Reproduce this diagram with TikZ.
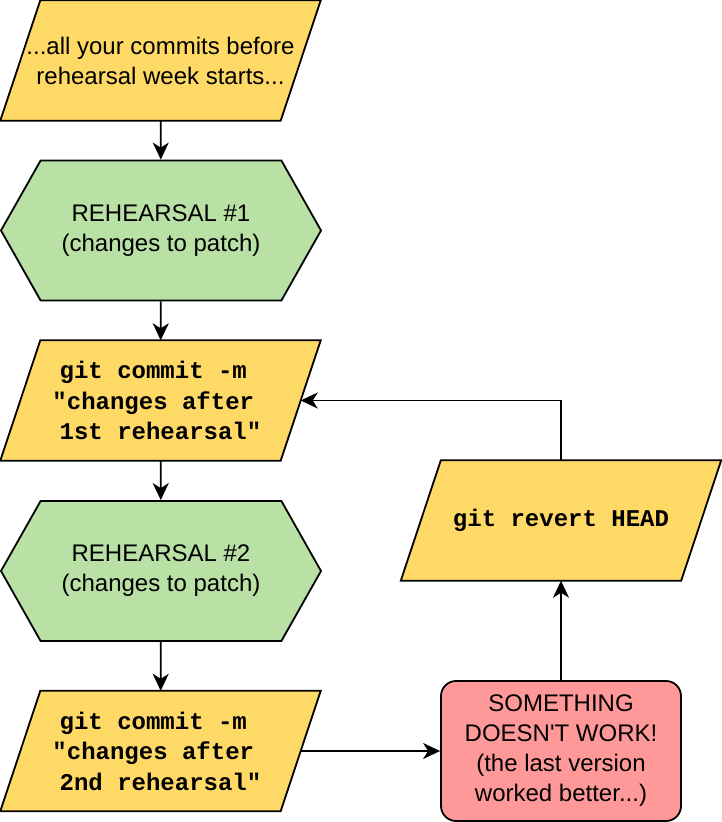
\documentclass[tikz,border=0pt]{standalone}
\usepackage{fontspec}
\setmainfont{Liberation Sans}
\setmonofont{Liberation Mono}
\usepackage{tikz}
\usetikzlibrary{shapes.symbols,arrows.meta,backgrounds}

\definecolor{yellowfill}{HTML}{FFD966}
\definecolor{greenfill}{HTML}{B9E0A5}
\definecolor{redfill}{HTML}{FF9999}

\tikzset{
    every node/.style={font=\fontsize{24}{30}\selectfont, align=center},
    para/.style={rectangle, minimum width=320pt, minimum height=120pt, inner sep=0pt},
    paraline/.style={draw, line width=1.8pt, fill=yellowfill, line join=miter},
    rehearsal/.style={signal, signal to=east and west, signal pointer angle=121,
        draw, line width=1.8pt, fill=greenfill,
        minimum width=320pt, minimum height=140pt, inner sep=0pt},
    alarm/.style={rectangle, rounded corners=15pt, draw, line width=1.8pt,
        fill=redfill, minimum width=240pt, minimum height=140pt, inner sep=0pt},
    code/.style={font=\fontsize{24}{30.5}\selectfont\ttfamily\bfseries},
    link/.style={->, line width=1.8pt},
    >={Stealth[length=17pt,width=16pt,inset=5pt]}
}

\begin{document}
\begin{tikzpicture}[x=1pt,y=-1pt]
        \useasboundingbox (0,0) rectangle (722,822);

        \node[para] (before) at (160.5,60.5) {...all your commits before\\rehearsal week starts...};
        \node[rehearsal] (reh1) at (161,230.5) {REHEARSAL \#1\\(changes to patch)};
        \node[para, code] (commit1) at (160.5,400.5)
            {git commit -m\hphantom{x}\\"changes after\hphantom{x}\\1st rehearsal"};
        \node[rehearsal] (reh2) at (161,571) {REHEARSAL \#2\\(changes to patch)};
        \node[para, code] (commit2) at (160.5,751)
            {git commit -m\hphantom{x}\\"changes after\hphantom{x}\\2nd rehearsal"};

        \node[alarm] (broken) at (561,751)
            {SOMETHING\\DOESN\textquotesingle T WORK!\\(the last version\\worked better...)};
        \node[para, code] (revert) at (561,520.5) {git revert HEAD};

        % slanted boxes behind the text
        \begin{scope}[on background layer]
            \foreach \n in {before,commit1,commit2,revert}
                \draw[paraline] ([xshift=40pt]\n.north west) -- (\n.north east)
                    -- ([xshift=-40pt]\n.south east) -- (\n.south west) -- cycle;
        \end{scope}

        \draw[link] (before) -- (reh1);
        \draw[link] (reh1) -- (commit1);
        \draw[link] (commit1) -- (reh2);
        \draw[link] (reh2) -- (commit2);
        \draw[link] ([xshift=-20pt]commit2.east) -- (broken.west);
        \draw[link] (broken) -- (revert);
        \draw[link] (revert.north) |- ([xshift=-20pt]commit1.east);
    \end{tikzpicture}
\end{document}
